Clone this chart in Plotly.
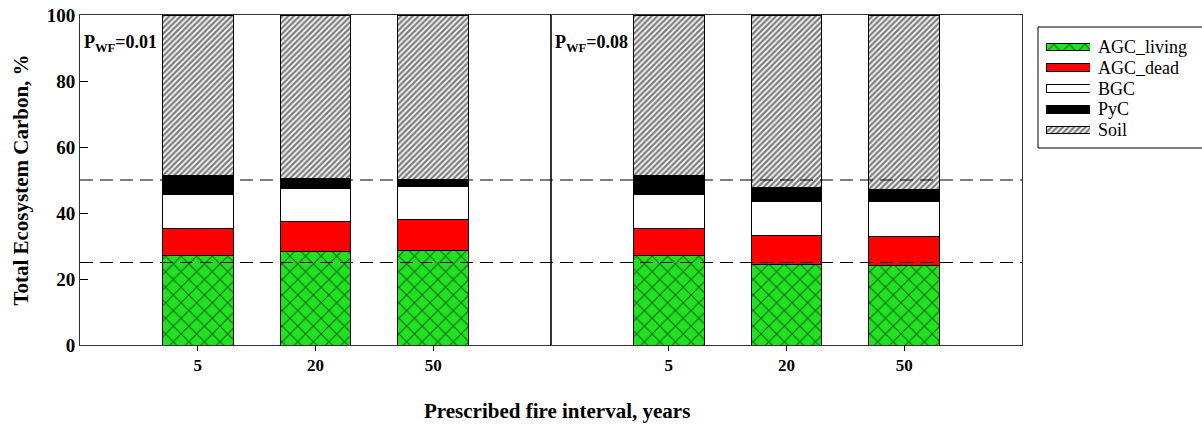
import plotly.graph_objects as go

intervals = ["5", "20", "50"]
panels = ["P<sub>WF</sub>=0.01", "P<sub>WF</sub>=0.08"]
components = ["AGC_living", "AGC_dead", "BGC", "PyC", "Soil"]

# percent of total ecosystem carbon, per panel, per interval
agc_living = [[27.1, 28.2, 28.5], [27.1, 24.4, 24.1]]
agc_dead = [[8.3, 9.3, 9.6], [8.3, 8.8, 8.8]]
bgc = [[10.3, 10.0, 9.9], [10.3, 10.3, 10.6]]
pyc = [[5.6, 3.0, 2.2], [5.6, 4.2, 3.5]]
soil = [[48.7, 49.5, 49.8], [48.7, 52.3, 53.0]]
ref_lines = [25, 50]
yticks = [0, 20, 40, 60, 80, 100]

series = {"AGC_living": agc_living, "AGC_dead": agc_dead, "BGC": bgc, "PyC": pyc, "Soil": soil}
GREEN = "#22e022"


def marker_for(name):
    if name == "AGC_living":
        return dict(color=GREEN, line=dict(color="black", width=1),
                    pattern=dict(shape="x", size=11, solidity=0.2, fgcolor="black", bgcolor=GREEN,
                                 fillmode="overlay"))
    if name == "AGC_dead":
        return dict(color="#ff0000", line=dict(color="black", width=1))
    if name == "BGC":
        return dict(color="white", line=dict(color="black", width=1))
    if name == "PyC":
        return dict(color="black", line=dict(color="black", width=1))
    return dict(color="white", line=dict(color="black", width=1),
                pattern=dict(shape="/", size=4, solidity=0.6, fgcolor="black", bgcolor="white",
                             fillmode="overlay"))


W, H = 1202, 425
L, R, T, B = 80, 0, 15, 80
pw = W - L - R
ph = H - T - B


def px_x(x):
    return (x - L) / pw


def px_y(y):
    return (H - B - y) / ph


xpos = [1, 2, 3]
fig = go.Figure()
for p in range(2):
    xa = "x" if p == 0 else "x2"
    for name in components:
        fig.add_trace(go.Bar(x=xpos, y=series[name][p], name=name, marker=marker_for(name),
                             width=0.6, showlegend=False, xaxis=xa, yaxis="y" if p == 0 else "y2"))

# custom legend swatches drawn as bars on a small auxiliary axis
for i, name in enumerate(components):
    fig.add_trace(go.Bar(x=[1], y=[i], orientation="h", width=0.38, marker=marker_for(name),
                         showlegend=False, xaxis="x3", yaxis="y3", hoverinfo="skip"))
    fig.add_annotation(xref="paper", yref="y3", x=px_x(1096), y=i, xanchor="left", yanchor="middle",
                       showarrow=False, text=name,
                       font=dict(family="Liberation Serif", size=18, color="black"))

fig.add_shape(type="rect", xref="paper", yref="paper", x0=px_x(1038), x1=px_x(1210),
              y0=px_y(148), y1=px_y(27), line=dict(color="black", width=1))

split = px_x(551)
right = px_x(1022)
tickfont_x = dict(family="Liberation Serif", size=17, color="black", weight="bold")
tickfont_y = dict(family="Liberation Serif", size=19, color="black", weight="bold")
common_x = dict(range=[0, 4], tickvals=xpos, ticktext=intervals, ticks="outside", ticklen=5,
                tickcolor="black", showline=True, linecolor="#333", linewidth=1, mirror=True,
                showgrid=False, zeroline=False, tickfont=tickfont_x, fixedrange=True)
common_y = dict(range=[0, 100], tickvals=yticks, ticks="inside", ticklen=8, tickcolor="black",
                showline=True, linecolor="#333", linewidth=1, mirror=True, showgrid=False,
                zeroline=False, fixedrange=True)

fig.update_layout(
    barmode="stack",
    width=W, height=H,
    margin=dict(l=L, r=R, t=T, b=B),
    plot_bgcolor="white", paper_bgcolor="white",
    showlegend=False,
    xaxis=dict(common_x, domain=[0, split], anchor="y"),
    xaxis2=dict(common_x, domain=[split, right], anchor="y2"),
    yaxis=dict(common_y, domain=[0, 1], anchor="x", tickfont=tickfont_y,
               title=dict(text="Total Ecosystem Carbon, %", standoff=12,
                          font=dict(family="Liberation Serif", size=21, color="black", weight="bold"))),
    yaxis2=dict(common_y, domain=[0, 1], anchor="x2", matches="y", showticklabels=False, ticks=""),
    xaxis3=dict(domain=[px_x(1046), px_x(1090)], range=[0, 1], visible=False, anchor="y3", fixedrange=True),
    yaxis3=dict(domain=[px_y(140.4), px_y(36.6)], range=[4.5, -0.5], visible=False, anchor="x3",
                fixedrange=True),
)

for v in ref_lines:
    fig.add_shape(type="line", xref="paper", yref="y", x0=0, x1=right, y0=v, y1=v,
                  line=dict(color="black", width=1.2, dash="13px,7px"))

for p, txt in enumerate(panels):
    fig.add_annotation(xref="x domain" if p == 0 else "x2 domain", yref="y domain",
                       x=0.005, y=0.915, xanchor="left", yanchor="middle", showarrow=False,
                       text=f"<b>{txt}</b>", font=dict(family="Liberation Serif", size=18, color="black"))

fig.add_annotation(xref="paper", yref="paper", x=px_x(557), y=px_y(411), yanchor="middle",
                   showarrow=False, text="<b>Prescribed fire interval, years</b>",
                   font=dict(family="Liberation Serif", size=21, color="black"))

fig.write_html("out.html")
